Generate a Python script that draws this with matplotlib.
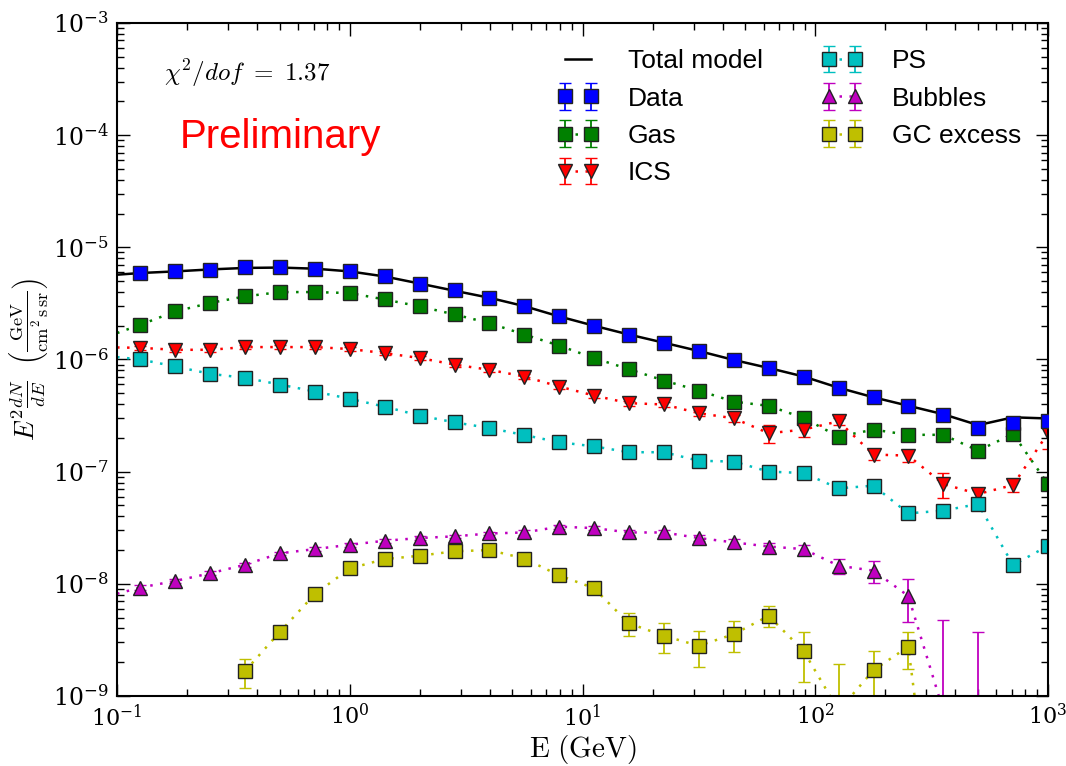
import numpy as np
import matplotlib
matplotlib.use('Agg')
from matplotlib import pyplot as plt

# bin centres (GeV)
energy = [0.126, 0.178, 0.251, 0.355, 0.501, 0.708, 1.0, 1.41, 2.0, 2.82, 3.98, 5.62,
          7.94, 11.2, 15.8, 22.4, 31.6, 44.7, 63.1, 89.1, 126, 178, 251, 355, 501, 708, 1000]

data = [5.94e-6, 6.13e-6, 6.32e-6, 6.67e-6, 6.67e-6, 6.45e-6, 6.11e-6, 5.51e-6, 4.75e-6,
        4.13e-6, 3.56e-6, 2.99e-6, 2.42e-6, 2.0e-6, 1.67e-6, 1.41e-6, 1.19e-6, 9.93e-7,
        8.36e-7, 7.05e-7, 5.58e-7, 4.61e-7, 3.86e-7, 3.23e-7, 2.44e-7, 2.74e-7, 2.85e-7]
data_err = [6e-8, 6e-8, 6e-8, 7e-8, 7e-8, 6e-8, 6e-8, 5e-8, 5e-8, 4e-8, 4e-8, 3e-8, 3e-8,
            2e-8, 2e-8, 2e-8, 1.5e-8, 1.2e-8, 1e-8, 1e-8, 8e-9, 8e-9, 8e-9, 8e-9, 8e-9, 1e-8, 1.2e-8]

model_energy = [0.1] + energy
model = [5.7e-6, 5.9e-6, 6.1e-6, 6.35e-6, 6.55e-6, 6.6e-6, 6.45e-6, 6.1e-6, 5.5e-6, 4.75e-6,
         4.1e-6, 3.55e-6, 2.99e-6, 2.42e-6, 2.0e-6, 1.67e-6, 1.41e-6, 1.19e-6, 9.9e-7,
         8.4e-7, 7.05e-7, 5.6e-7, 4.6e-7, 3.87e-7, 3.25e-7, 2.6e-7, 3.05e-7, 2.98e-7]

gas = [2.04e-6, 2.68e-6, 3.19e-6, 3.65e-6, 3.99e-6, 3.99e-6, 3.91e-6, 3.43e-6, 2.97e-6,
       2.52e-6, 2.11e-6, 1.67e-6, 1.33e-6, 1.03e-6, 8.2e-7, 6.49e-7, 5.28e-7, 4.21e-7,
       3.86e-7, 3.01e-7, 2.05e-7, 2.37e-7, 2.13e-7, 2.13e-7, 1.54e-7, 2.17e-7, 7.76e-8]
gas_err = [6e-8, 7e-8, 8e-8, 8e-8, 8e-8, 8e-8, 8e-8, 7e-8, 6e-8, 5e-8, 4e-8, 3e-8, 3e-8,
           2e-8, 2e-8, 1.5e-8, 1.2e-8, 1e-8, 1e-8, 1e-8, 8e-9, 1e-8, 1e-8, 1e-8, 1e-8, 1.2e-8, 8e-9]

ics = [1.27e-6, 1.22e-6, 1.22e-6, 1.29e-6, 1.29e-6, 1.29e-6, 1.24e-6, 1.14e-6, 1.03e-6,
       9.0e-7, 8.09e-7, 7.05e-7, 5.74e-7, 4.77e-7, 4.08e-7, 3.97e-7, 3.32e-7, 2.99e-7,
       2.2e-7, 2.37e-7, 2.81e-7, 1.42e-7, 1.39e-7, 7.76e-8, 6.32e-8, 7.6e-8, 2.2e-7]
ics_err = [6e-8, 6e-8, 6e-8, 6e-8, 6e-8, 6e-8, 6e-8, 5e-8, 5e-8, 4e-8, 4e-8, 3e-8, 3e-8,
           2.5e-8, 2e-8, 2e-8, 2e-8, 2e-8, 4e-8, 3.5e-8, 2e-8, 1.5e-8, 1.8e-8, 1.9e-8,
           6e-9, 1e-8, 6e-8]

ps = [1.0e-6, 8.66e-7, 7.45e-7, 6.86e-7, 5.98e-7, 5.18e-7, 4.46e-7, 3.8e-7, 3.16e-7,
      2.75e-7, 2.45e-7, 2.12e-7, 1.83e-7, 1.68e-7, 1.49e-7, 1.49e-7, 1.25e-7, 1.23e-7,
      1.0e-7, 9.73e-8, 7.1e-8, 7.5e-8, 4.25e-8, 4.49e-8, 5.15e-8, 1.47e-8, 2.18e-8]
ps_err = [2e-8, 2e-8, 1.5e-8, 1.5e-8, 1.2e-8, 1e-8, 1e-8, 8e-9, 7e-9, 6e-9, 5e-9, 5e-9,
          4e-9, 4e-9, 4e-9, 4e-9, 3e-9, 3e-9, 3e-9, 3e-9, 3e-9, 3e-9, 2e-9, 2e-9, 2e-9,
          1e-9, 1.5e-9]

bubbles = [9.27e-9, 1.06e-8, 1.24e-8, 1.48e-8, 1.87e-8, 2.04e-8, 2.23e-8, 2.42e-8, 2.56e-8,
           2.65e-8, 2.81e-8, 2.87e-8, 3.23e-8, 3.14e-8, 2.87e-8, 2.87e-8, 2.56e-8, 2.34e-8,
           2.15e-8, 2.04e-8, 1.45e-8, 1.31e-8, 7.8e-9, 7.4e-10, 3e-10, 1e-11, 1e-11]
bubbles_err = [4e-10, 4e-10, 5e-10, 6e-10, 7e-10, 8e-10, 8e-10, 9e-10, 1e-9, 1e-9, 1.1e-9,
               1.2e-9, 1.3e-9, 1.3e-9, 1.3e-9, 1.4e-9, 1.4e-9, 1.5e-9, 1.5e-9, 1.7e-9,
               2.3e-9, 3e-9, 3.2e-9, 4e-9, 3.45e-9, 0, 0]

gc = [np.nan, np.nan, np.nan, 1.67e-9, 3.73e-9, 8.1e-9, 1.37e-8, 1.66e-8, 1.78e-8, 1.95e-8,
      2.0e-8, 1.68e-8, 1.19e-8, 9.14e-9, 4.45e-9, 3.44e-9, 2.8e-9, 3.56e-9, 5.18e-9,
      2.52e-9, 7.4e-10, 1.7e-9, 2.75e-9, 1e-11, np.nan, np.nan, np.nan]
gc_err = [0, 0, 0, 4.8e-10, 2e-10, 3e-10, 5e-10, 6e-10, 6e-10, 7e-10, 7e-10, 6e-10, 6e-10,
          6e-10, 1.0e-9, 1.0e-9, 1.0e-9, 1.1e-9, 1.1e-9, 1.2e-9, 1.18e-9, 8e-10, 1.0e-9, 0,
          0, 0, 0]

# where the dotted component curves meet the left axis (E = 0.1 GeV)
left_edge = {'Gas': 1.72e-6, 'ICS': 1.28e-6, 'PS': 1.05e-6, 'Bubbles': 8.15e-9}

plt.rcParams['mathtext.fontset'] = 'cm'
plt.rcParams['font.family'] = ['DejaVu Serif']

fig = plt.figure(figsize=(10.66, 7.66), dpi=100)
ax = fig.add_axes([0.1098, 0.0914, 0.8733, 0.8786])
ax.set_xscale('log')
ax.set_yscale('log', nonpositive='clip')

dot = (0, (1, 3))
common = dict(ms=10, mec='#222222', mew=1, capsize=4, elinewidth=1.3, capthick=1.3)

ax.plot(model_energy, model, '-', color='k', lw=1.8, label='Total model', zorder=5)
ax.errorbar(energy, data, yerr=data_err, fmt='s', ls='none', color='b', label='Data',
            zorder=6, **common)

series = [('Gas', gas, gas_err, 's', 'g'),
          ('ICS', ics, ics_err, 'v', 'r'),
          ('PS', ps, ps_err, 's', 'c'),
          ('Bubbles', bubbles, bubbles_err, '^', 'm'),
          ('GC excess', gc, gc_err, 's', 'y')]
for name, vals, errs, mk, col in series:
    ax.errorbar(energy, vals, yerr=errs, fmt=mk, ls=dot, lw=1.8, color=col, label=name, **common)
    if name in left_edge:
        ax.plot([0.1, energy[0]], [left_edge[name], vals[0]], ls=dot, lw=1.8, color=col)

ax.set_xlim(0.1, 1000)
ax.set_ylim(1e-9, 1e-3)

ax.tick_params(which='both', direction='in', top=True, right=True, width=1)
ax.tick_params(axis='y', labelsize=17)
ax.tick_params(axis='x', labelsize=16)
ax.tick_params(which='major', length=9, pad=6)
ax.tick_params(which='minor', length=5)
for sp in ax.spines.values():
    sp.set_linewidth(1.5)

ax.set_xlabel(r'$\mathrm{E\ (GeV)}$', fontsize=21)
ax.xaxis.set_label_coords(0.5, -0.055)
ax.set_ylabel(r'$E^2\frac{dN}{dE}\ \ \left(\frac{\mathrm{GeV}}{\mathrm{cm^2\,s\,sr}}\right)$',
              fontsize=19)
ax.yaxis.set_label_coords(-0.072, 0.5)

ax.text(0.05, 0.925, r'$\chi^2/dof\ =\ 1.37$', transform=ax.transAxes, fontsize=18,
        va='center', ha='left')
ax.text(0.067, 0.83, 'Preliminary', transform=ax.transAxes, fontsize=29, color='red',
        family='Liberation Sans', va='center', ha='left')

ax.legend(loc='upper right', ncol=2, frameon=False, numpoints=2, handlelength=1.6,
          handletextpad=1.1, columnspacing=2.2, labelspacing=0.5, borderaxespad=0.6,
          prop={'family': 'Liberation Sans', 'size': 19})

fig.savefig('out.png', dpi=100)
